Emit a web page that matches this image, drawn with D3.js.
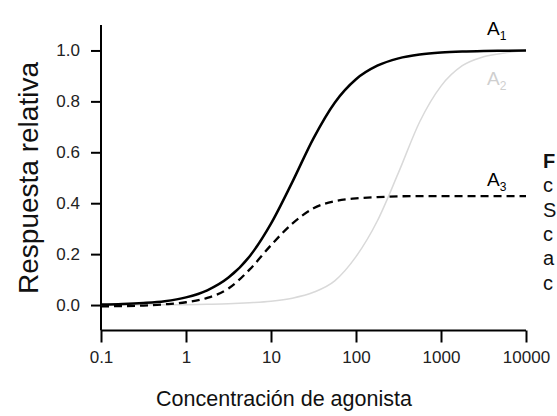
<!DOCTYPE html>
<html>
<head>
<meta charset="utf-8">
<script src="https://cdn.jsdelivr.net/npm/d3@7"></script>
<style>
  body { margin: 0; background: #fff; }
  svg { display: block; font-family: "Liberation Sans", Arial, sans-serif; }
</style>
</head>
<body>
<script>
// concentraciones (eje x, log, cada cuarto de década) y respuestas
const conc = [0.1, 0.178, 0.316, 0.562, 1, 1.78, 3.16, 5.62, 10, 17.8, 31.6, 56.2, 100, 178, 316, 562, 1000, 1780, 3160, 5620, 10000];
const a1 = [0.002, 0.004, 0.008, 0.015, 0.03, 0.058, 0.108, 0.192, 0.32, 0.483, 0.655, 0.795, 0.887, 0.94, 0.969, 0.984, 0.992, 0.996, 0.998, 0.999, 1.0];
const a2 = [0.0, 0.0, 0.0005, 0.001, 0.0015, 0.003, 0.005, 0.009, 0.015, 0.027, 0.05, 0.095, 0.19, 0.33, 0.52, 0.72, 0.86, 0.94, 0.975, 0.99, 1.0];
const a3 = [-0.005, -0.004, -0.002, 0.003, 0.011, 0.028, 0.065, 0.14, 0.235, 0.32, 0.38, 0.408, 0.419, 0.424, 0.427, 0.428, 0.428, 0.428, 0.428, 0.428, 0.428];

const xTicks = [0.1, 1, 10, 100, 1000, 10000];
const yTicks = [0.0, 0.2, 0.4, 0.6, 0.8, 1.0];
const seriesNames = ["A1", "A2", "A3"];
const captionLetters = ["F", "c", "S", "c", "a", "c"];

const width = 557, height = 416;

const svg = d3.select("body").append("svg").attr("width", width).attr("height", height);

const x = d3.scaleLog().domain([0.1, 10000]).range([101, 526]);
const y = d3.scaleLinear().domain([-0.1, 1.1]).range([330.5, 25]);

// ejes
let xAxis = svg.append("g").attr("transform", "translate(0,330.5)")
    .call(d3.axisBottom(x).tickValues(xTicks).tickSize(12).tickPadding(8).tickFormat(d => String(d)));
let yAxis = svg.append("g").attr("transform", "translate(101,0)")
    .call(d3.axisLeft(y).tickValues(yTicks).tickSize(10).tickPadding(11).tickFormat(d3.format(".1f")));

[xAxis, yAxis].forEach(g => {
    g.select(".domain").attr("stroke", "#000").attr("stroke-width", 2);
    g.selectAll(".tick line").attr("stroke", "#000").attr("stroke-width", 2);
    g.selectAll(".tick text").attr("fill", "#222").style("font-size", "17px")
        .style("font-family", "'Liberation Sans', Arial, sans-serif");
});
// sin los remates de d3 en los extremos del dominio
xAxis.select(".domain").attr("d", `M${x.range()[0]},0H${x.range()[1]}`);
yAxis.select(".domain").attr("d", `M0,${y.range()[0]}V${y.range()[1]}`);

// curvas
const line = d3.line().x((d, i) => x(conc[i])).y(d => y(d)).curve(d3.curveMonotoneX);

svg.append("path").datum(a2).attr("d", line)
    .attr("fill", "none").attr("stroke", "#d9d9d9").attr("stroke-width", 1.5);
svg.append("path").datum(a3).attr("d", line)
    .attr("fill", "none").attr("stroke", "#000").attr("stroke-width", 2.3).attr("stroke-dasharray", "8,5");
svg.append("path").datum(a1).attr("d", line)
    .attr("fill", "none").attr("stroke", "#000").attr("stroke-width", 2.5);

// etiquetas de las curvas
const labelPos = [{ y: 35, c: "#000" }, { y: 85, c: "#cfcfcf" }, { y: 186, c: "#000" }];
seriesNames.forEach((n, i) => {
    let t = svg.append("text").attr("x", 487).attr("y", labelPos[i].y)
        .attr("fill", labelPos[i].c).style("font-size", "19px");
    t.append("tspan").text(n[0]);
    t.append("tspan").attr("dy", 5).style("font-size", "12px").text(n.slice(1));
});

// títulos de los ejes
svg.append("text").attr("x", 284).attr("y", 406).attr("text-anchor", "middle")
    .attr("fill", "#111").style("font-size", "21.5px").text("Concentración de agonista");
svg.append("text").attr("transform", "translate(38,178) rotate(-90)").attr("text-anchor", "middle")
    .attr("fill", "#111").style("font-size", "28px").text("Respuesta relativa");

// texto del pie de figura, pegado al borde derecho
captionLetters.forEach((c, i) => {
    svg.append("text").attr("x", 543).attr("y", 168 + i * 24.3)
        .attr("fill", "#111").style("font-size", "20px").style("font-weight", i == 0 ? "bold" : "normal")
        .text(c);
});
</script>
</body>
</html>
